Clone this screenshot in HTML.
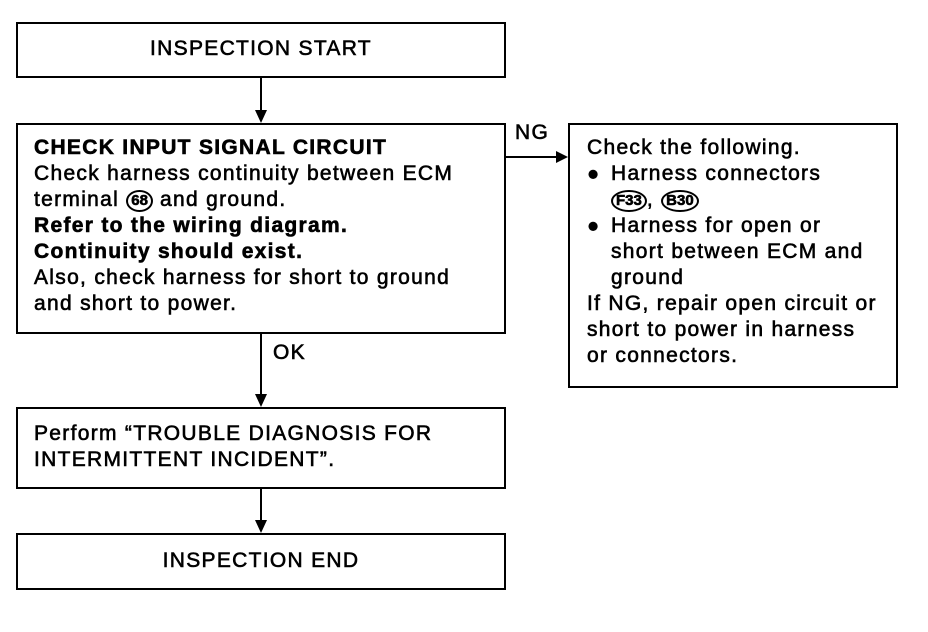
<!DOCTYPE html>
<html><head><meta charset="utf-8"><style>
body{margin:0;width:928px;height:632px;background:#fff;position:relative;overflow:hidden;font-family:"Liberation Sans",Arial,sans-serif;color:#000}
.b{position:absolute;border:2px solid #000;box-sizing:border-box}
.t{position:absolute;font-size:21px;letter-spacing:1.3px;line-height:26px;white-space:nowrap;-webkit-text-stroke:0.6px #000}
.t b{letter-spacing:1.3px}
.c{text-align:center;left:0;right:0}
.circ{display:inline-block;border:2px solid #000;border-radius:50%;font-size:15px;letter-spacing:0;line-height:18px;padding:0 3px;font-weight:bold;vertical-align:1px}
.bul{display:inline-block;width:24px;font-size:20px}
.ind{padding-left:24px;display:inline-block}
</style></head><body>
<div class="b" style="left:16px;top:22px;width:490px;height:56px"><div class="t c" style="top:12px">INSPECTION START</div></div>
<div class="b" style="left:16px;top:123px;width:490px;height:211px">
<div class="t" style="left:16px;top:10px">
<b>CHECK INPUT SIGNAL CIRCUIT</b><br>
Check harness continuity between ECM<br>
terminal <span class="circ">68</span> and ground.<br>
<b>Refer to the wiring diagram.</b><br>
<b>Continuity should exist.</b><br>
Also, check harness for short to ground<br>
and short to power.</div></div>
<div class="b" style="left:568px;top:123px;width:330px;height:265px">
<div class="t" style="left:17px;top:10px">
Check the following.<br>
<span class="bul">●</span>Harness connectors<br>
<span class="ind"><span class="circ">F33</span>, <span class="circ">B30</span></span><br>
<span class="bul">●</span>Harness for open or<br>
<span class="ind">short between ECM and</span><br>
<span class="ind">ground</span><br>
If NG, repair open circuit or<br>
short to power in harness<br>
or connectors.</div></div>
<div class="b" style="left:16px;top:407px;width:490px;height:82px">
<div class="t" style="left:16px;top:12px">Perform “TROUBLE DIAGNOSIS FOR<br>INTERMITTENT INCIDENT”.</div></div>
<div class="b" style="left:16px;top:533px;width:490px;height:57px"><div class="t c" style="top:13px">INSPECTION END</div></div>
<div class="t" style="left:515px;top:120px">NG</div>
<div class="t" style="left:273px;top:340px">OK</div>
<svg width="928" height="632" style="position:absolute;left:0;top:0">
<g stroke="#000" stroke-width="2" fill="#000">
<line x1="261" y1="78" x2="261" y2="112"/><polygon points="255,110 267,110 261,123" stroke="none"/>
<line x1="261" y1="334" x2="261" y2="396"/><polygon points="255,394 267,394 261,407" stroke="none"/>
<line x1="261" y1="489" x2="261" y2="522"/><polygon points="255,520 267,520 261,533" stroke="none"/>
<line x1="506" y1="157" x2="558" y2="157"/><polygon points="556,151 556,163 568,157" stroke="none"/>
</g></svg>
</body></html>
